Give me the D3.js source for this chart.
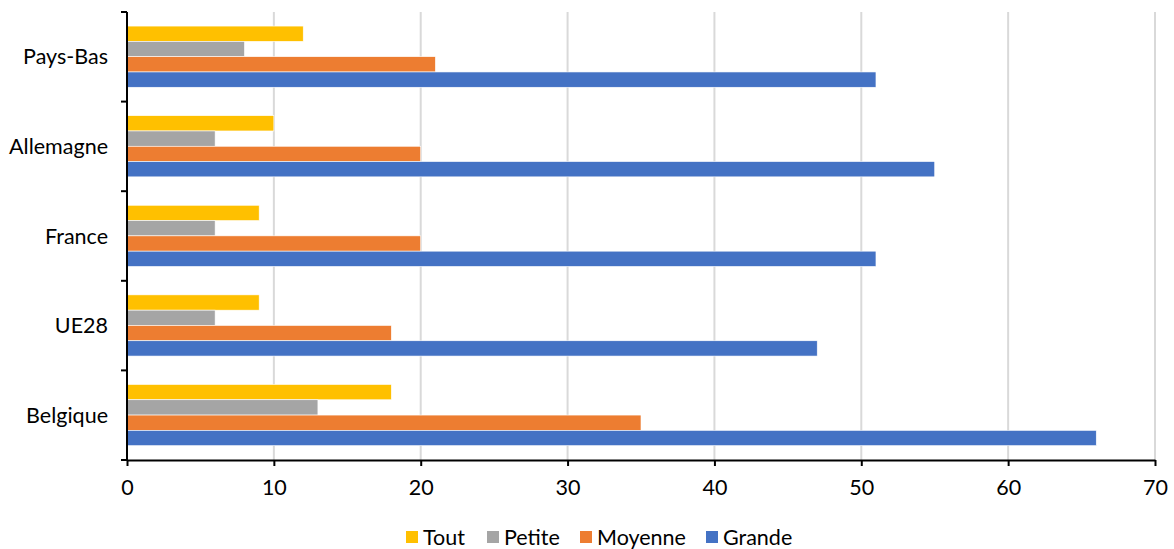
<!DOCTYPE html>
<html>
<head>
<meta charset="utf-8">
<script src="https://cdn.jsdelivr.net/npm/d3@7"></script>
<style>
  html, body { margin: 0; padding: 0; background: #fff; }
  svg { display: block; font-family: Lato, "Open Sans", sans-serif; }
</style>
</head>
<body>
<svg id="chart" width="1174" height="549"></svg>
<script>
// Countries, top to bottom
const categories = ["Pays-Bas", "Allemagne", "France", "UE28", "Belgique"];
// Series by company size
const seriesNames = ["Tout", "Petite", "Moyenne", "Grande"];
const seriesColors = ["#FFC000", "#A5A5A5", "#ED7D31", "#4472C4"];
const tout    = [12, 10, 9, 9, 18];
const petite  = [8, 6, 6, 6, 13];
const moyenne = [21, 20, 20, 18, 35];
const grande  = [51, 55, 51, 47, 66];
const xTicks  = [0, 10, 20, 30, 40, 50, 60, 70];

const seriesValues = [tout, petite, moyenne, grande];
const FONT_SIZE = 21.5;

const svg = d3.select("#chart");
const margin = { top: 12, right: 19, bottom: 89, left: 127 };
const width = 1174 - margin.left - margin.right;
const height = 549 - margin.top - margin.bottom;

const g = svg.append("g").attr("transform", `translate(${margin.left},${margin.top})`);

const x = d3.scaleLinear().domain([0, 70]).range([0, width]);
const y0 = d3.scaleBand().domain(categories).range([0, height]).paddingInner(0).paddingOuter(0);
const y1 = d3.scaleBand().domain(seriesNames)
  .range([y0.bandwidth() * 0.157, y0.bandwidth() * (1 - 0.16)]);

// vertical gridlines
g.append("g").selectAll("line")
  .data(xTicks.filter(d => d > 0))
  .join("line")
  .attr("x1", d => x(d)).attr("x2", d => x(d))
  .attr("y1", 0).attr("y2", height)
  .attr("stroke", "#d9d9d9").attr("stroke-width", 2);

// bars
const groups = g.append("g").selectAll("g")
  .data(categories)
  .join("g")
  .attr("transform", d => `translate(0,${y0(d)})`);

groups.selectAll("rect")
  .data((c, i) => seriesNames.map((s, k) => ({ s, k, v: seriesValues[k][i] })))
  .join("rect")
  .attr("x", 0)
  .attr("y", d => y1(d.s))
  .attr("width", d => x(d.v))
  .attr("height", y1.bandwidth())
  .attr("fill", d => seriesColors[d.k])
  .attr("stroke", "#fff").attr("stroke-width", 0.6);

// x axis
const xAxis = g.append("g")
  .attr("transform", `translate(0,${height})`)
  .call(d3.axisBottom(x).tickValues(xTicks).tickSize(6).tickPadding(14).tickSizeOuter(0));
xAxis.select(".domain").attr("stroke", "#000").attr("stroke-width", 2);
xAxis.selectAll(".tick line").attr("stroke", "#000").attr("stroke-width", 2);
xAxis.selectAll("text").attr("font-size", FONT_SIZE).attr("fill", "#000").attr("font-family", "Lato");

// y axis: ticks at band boundaries
const yAxis = g.append("g");
yAxis.append("line")
  .attr("x1", 0).attr("x2", 0).attr("y1", 0).attr("y2", height)
  .attr("stroke", "#000").attr("stroke-width", 2);
const bounds = categories.map(c => y0(c)).concat([height]);
yAxis.selectAll("line.tk")
  .data(bounds)
  .join("line")
  .attr("class", "tk")
  .attr("x1", -6).attr("x2", 0)
  .attr("y1", d => d).attr("y2", d => d)
  .attr("stroke", "#000").attr("stroke-width", 2);
yAxis.selectAll("text")
  .data(categories)
  .join("text")
  .attr("x", -19)
  .attr("y", d => y0(d) + y0.bandwidth() / 2)
  .attr("dy", "0.35em")
  .attr("text-anchor", "end")
  .attr("font-size", FONT_SIZE)
  .attr("fill", "#000")
  .text(d => d);

// legend
const legendX = [406, 487, 580, 706];
const legend = svg.append("g").attr("transform", "translate(0,537)");
const items = legend.selectAll("g")
  .data(seriesNames)
  .join("g")
  .attr("transform", (d, i) => `translate(${legendX[i]},0)`);
items.append("rect")
  .attr("x", 0).attr("y", -6)
  .attr("width", 12).attr("height", 12)
  .attr("fill", (d, i) => seriesColors[i]);
items.append("text")
  .attr("x", 17).attr("y", 0).attr("dy", "0.35em")
  .attr("font-size", FONT_SIZE).attr("fill", "#000")
  .text(d => d);
</script>
</body>
</html>
